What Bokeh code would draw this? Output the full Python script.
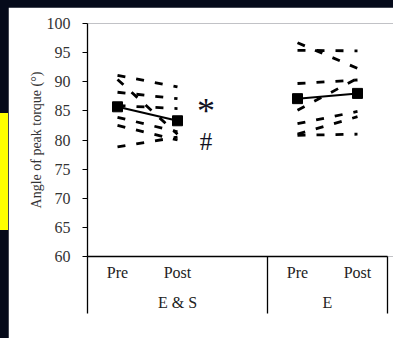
from bokeh.plotting import figure
from bokeh.models import FixedTicker, LinearAxis
from bokeh.core.properties import value
from bokeh.embed import file_html
from bokeh.resources import INLINE

# ---- data ----
conditions = ["Pre", "Post", "Pre", "Post"]
cond_x = [1, 3, 7, 9]
groups = ["E & S", "E"]
group_x = [3, 8]
separators_x = [0, 6, 10]

es_pre = [91.1, 90.4, 88.2, 85.9, 83.9, 82.5, 78.8]
es_post = [89.1, 81.0, 87.1, 85.4, 81.4, 80.0, 80.5]
e_pre = [96.7, 95.4, 89.7, 85.1, 82.8, 81.0, 80.8]
e_post = [92.3, 95.3, 90.3, 90.6, 84.9, 84.0, 81.0]

es_mean = [85.7, 83.3]
e_mean = [87.1, 88.0]

y_ticks = [60, 65, 70, 75, 80, 85, 90, 95, 100]
y_label = "Angle of peak torque (°)"

SERIF = value("Liberation Serif")

p = figure(width=385, height=331, output_backend="svg", toolbar_location=None,
           x_range=(0, 10.2), y_range=(60, 100),
           min_border_left=79, min_border_right=0, min_border_top=16, min_border_bottom=82)
p.outline_line_color = None
p.grid.visible = False
p.xaxis.visible = False
p.border_fill_color = "white"

ya = p.yaxis[0]
ya.ticker = FixedTicker(ticks=y_ticks)
ya.axis_line_color = "black"
ya.axis_line_width = 1.3
ya.major_tick_line_color = "black"
ya.major_tick_out = 5
ya.major_tick_in = 0
ya.minor_tick_line_color = None
ya.major_label_text_font = "Liberation Serif"
ya.major_label_text_font_size = "16px"
ya.major_label_text_color = "#333333"
ya.major_label_standoff = 12
ya.axis_label = y_label
ya.axis_label_text_font = "Liberation Serif"
ya.axis_label_text_font_style = "normal"
ya.axis_label_text_font_size = "14px"
ya.axis_label_text_color = "#333333"
ya.axis_label_standoff = 0

# condition axis (baseline, Pre/Post labels, long separator ticks drawn outward)
ax_cond = LinearAxis(
    ticker=FixedTicker(ticks=cond_x, minor_ticks=separators_x),
    major_label_overrides={x: t for x, t in zip(cond_x, conditions)},
    bounds=(0, 10),
    axis_line_color="black", axis_line_width=1.3,
    major_tick_line_color=None, major_tick_out=0, major_tick_in=0,
    minor_tick_line_color="black", minor_tick_line_width=1.3,
    minor_tick_out=0, minor_tick_in=-57,
    major_label_text_font="Liberation Serif", major_label_text_font_size="16px",
    major_label_text_color="#222222", major_label_standoff=7,
)
p.add_layout(ax_cond, "below")

# group axis (E & S / E)
ax_group = LinearAxis(
    ticker=FixedTicker(ticks=group_x),
    major_label_overrides={x: t for x, t in zip(group_x, groups)},
    axis_line_color=None, major_tick_line_color=None, minor_tick_line_color=None,
    major_tick_out=0, major_tick_in=0,
    major_label_text_font="Liberation Serif", major_label_text_font_size="16px",
    major_label_text_color="#222222", major_label_standoff=10,
)
p.add_layout(ax_group, "below")

# individual dashed lines
xs = [[cond_x[0], cond_x[1]] for _ in es_pre] + [[cond_x[2], cond_x[3]] for _ in e_pre]
ys = [[a, b] for a, b in zip(es_pre, es_post)] + [[a, b] for a, b in zip(e_pre, e_post)]
p.multi_line(xs=xs, ys=ys, line_color="black", line_width=2.8, line_dash="8 11")

# means
for xx, yy in (([cond_x[0], cond_x[1]], es_mean), ([cond_x[2], cond_x[3]], e_mean)):
    p.line(xx, yy, line_color="black", line_width=2)
    p.scatter(xx, yy, marker="square", size=10, fill_color="black", line_color="black")

# significance marks
p.text(x=[3.95], y=[85.0], text=["*"], text_font=SERIF, text_font_size="36px",
       text_color="#111122", text_align="center", text_baseline="middle")
p.text(x=[3.95], y=[79.8], text=["#"], text_font=SERIF, text_font_size="25px",
       text_color="#111122", text_align="center", text_baseline="middle")

html = file_html(p, INLINE)
style = ("<style>html, body { background-color:#050a1a !important; }"
         " body { margin:0 !important; padding:7px 0 0 8px !important; }"
         " #ystrip { position:absolute; left:0; top:113px; width:8px; height:117px;"
         " background:#ffff00; z-index:10; }</style></head>")
head, tail = html.split("</head>", 1)
html = head + style + tail
before, after = html.rsplit("</body>", 1)
html = before + '<div id="ystrip"></div></body>' + after
open("out.html", "w").write(html)
